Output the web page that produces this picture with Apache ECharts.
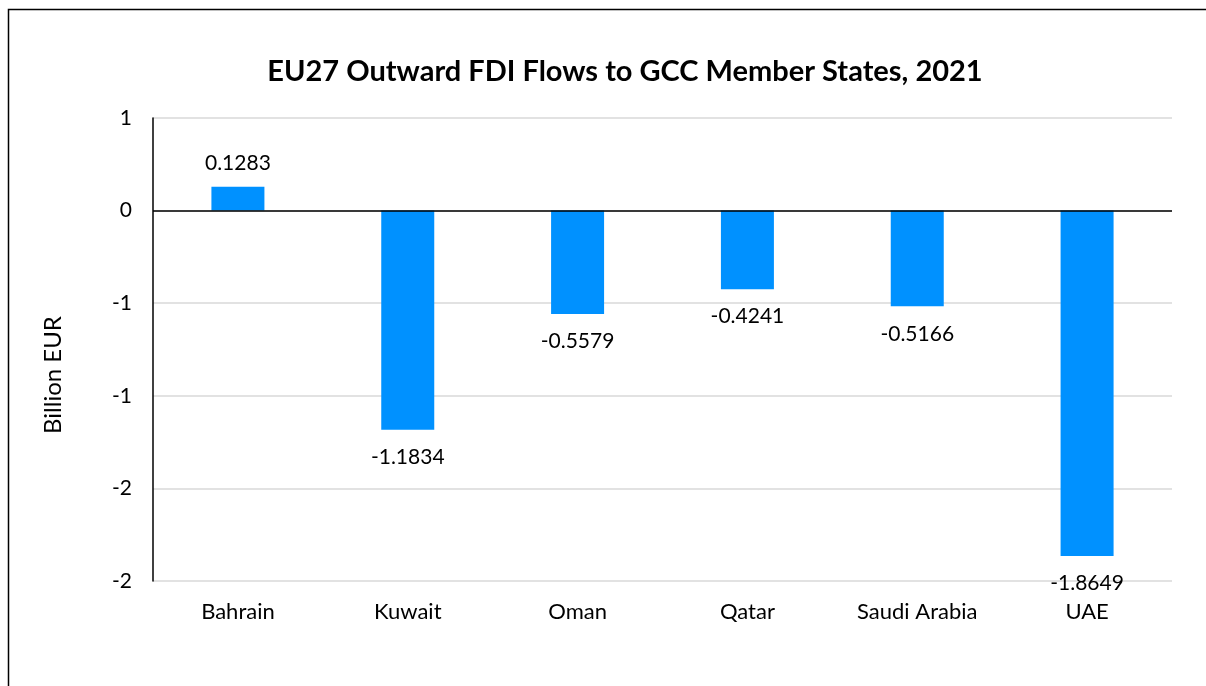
<!DOCTYPE html>
<html>
<head>
<meta charset="utf-8">
<script src="https://cdn.jsdelivr.net/npm/echarts@6/dist/echarts.min.js"></script>
<style>
html,body{margin:0;padding:0;background:#fff;}
#chart{width:1206px;height:686px;}
</style>
</head>
<body>
<div id="chart"></div>
<script>
const titleText = 'EU27 Outward FDI Flows to GCC Member States, 2021';
const yAxisTitle = 'Billion EUR';
const categories = ['Bahrain', 'Kuwait', 'Oman', 'Qatar', 'Saudi Arabia', 'UAE'];
const values = [0.1283, -1.1834, -0.5579, -0.4241, -0.5166, -1.8649];
const yTicks = [-2, -1.5, -1, -0.5, 0, 0.5];
const yTickLabels = ['-2', '-2', '-1', '-1', '0', '1'];

const FONT = 'Lato';
const chart = echarts.init(document.getElementById('chart'), null, {renderer: 'canvas'});
chart.setOption({
  backgroundColor: '#ffffff',
  animation: false,
  title: {
    text: titleText,
    left: 620,
    textAlign: 'center',
    top: 52,
    textStyle: {fontFamily: FONT, fontWeight: 'bold', fontSize: 29, color: '#000'}
  },
  graphic: [
    {type: 'rect', shape: {x: 8.5, y: 9.5, width: 1400, height: 900}, style: {fill: 'none', stroke: '#000', lineWidth: 1.5}, silent: true},
    {type: 'text', x: 53, y: 375, rotation: Math.PI / 2,
     style: {text: yAxisTitle, align: 'center', verticalAlign: 'middle', fontFamily: FONT, fontSize: 24, fill: '#000'}}
  ],
  grid: {left: 153, right: 34, top: 118, bottom: 105, containLabel: false},
  xAxis: {
    type: 'category',
    data: categories,
    axisLine: {show: false, onZero: false},
    axisTick: {show: false},
    axisLabel: {margin: 20, fontFamily: FONT, fontSize: 22, color: '#000'}
  },
  yAxis: {
    type: 'value',
    min: -2, max: 0.5, interval: 0.5,
    axisLine: {show: true, lineStyle: {color: '#000', width: 1.5}},
    axisTick: {show: false},
    splitLine: {show: true, lineStyle: {color: '#d9d9d9', width: 1.5}},
    axisLabel: {
      margin: 21, fontFamily: FONT, fontSize: 21, color: '#000',
      formatter: function (v) {
        const i = yTicks.findIndex(t => Math.abs(t - v) < 1e-9);
        return i >= 0 ? yTickLabels[i] : '';
      }
    }
  },
  series: [{
    type: 'bar',
    barWidth: 53,
    data: values.map(v => ({
      value: v,
      label: {position: v < 0 ? 'bottom' : 'top', distance: v < 0 ? 17 : 13}
    })),
    itemStyle: {color: '#0091FF'},
    label: {
      show: true, fontFamily: FONT, fontSize: 21, color: '#000',
      formatter: p => p.value.toFixed(4)
    },
    markLine: {
      silent: true, symbol: 'none', animation: false,
      label: {show: false},
      lineStyle: {color: '#000', width: 1.5, type: 'solid'},
      data: [{yAxis: 0}]
    }
  }]
});
</script>
</body>
</html>
